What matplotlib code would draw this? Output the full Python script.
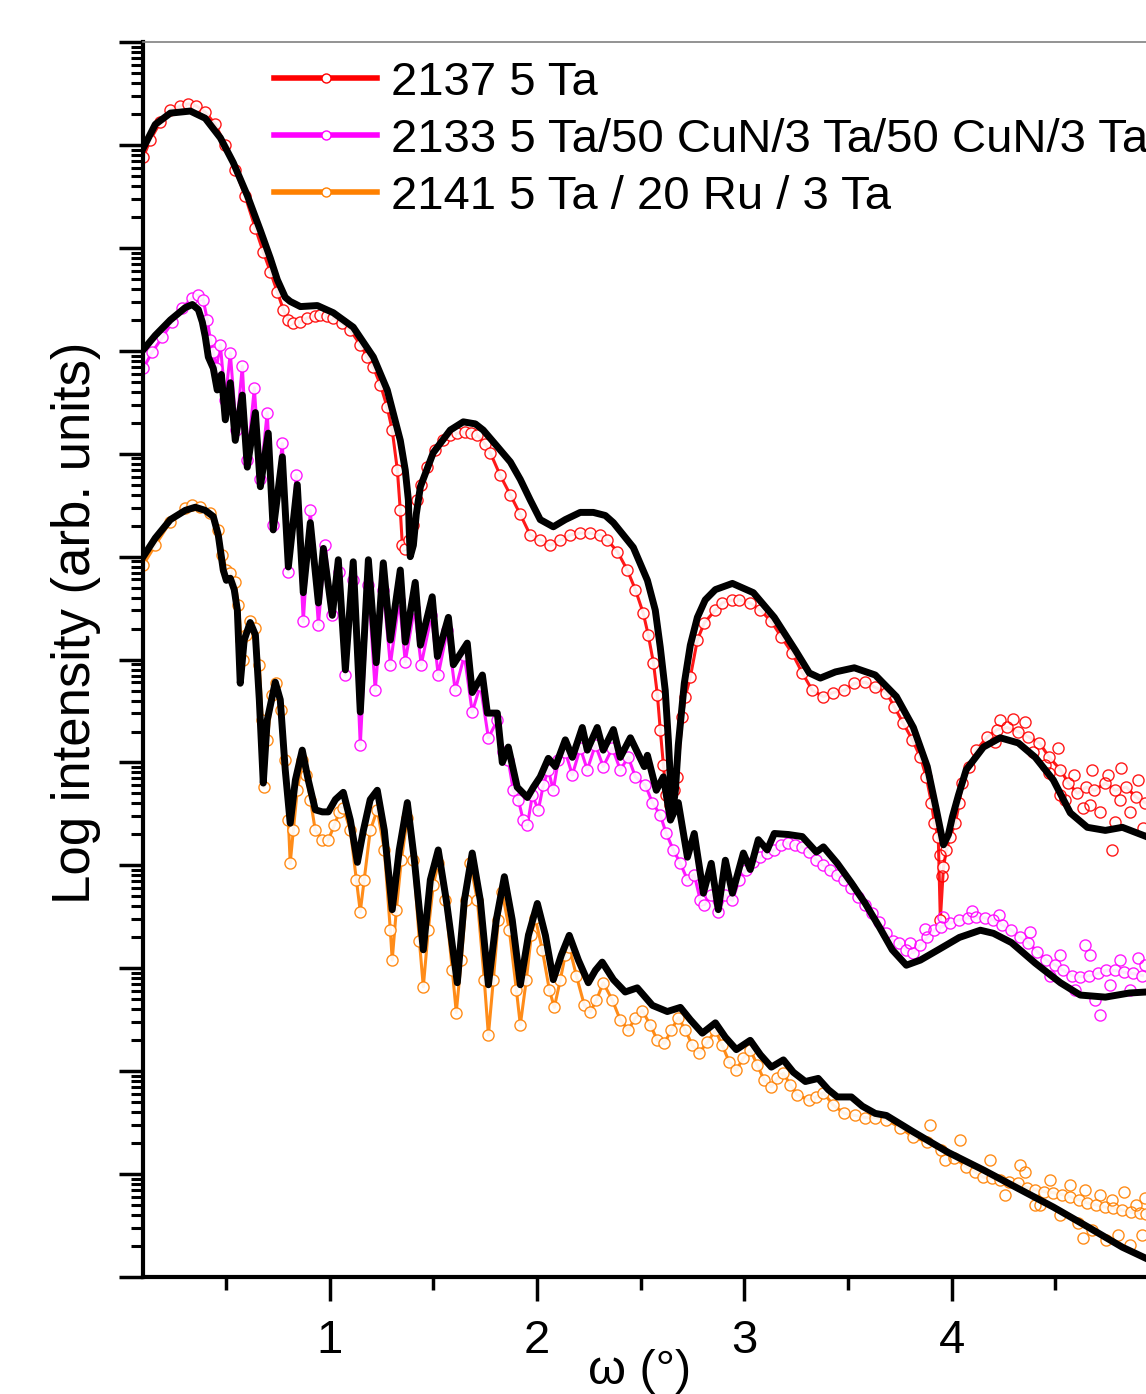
import matplotlib
matplotlib.use('Agg')
import matplotlib.pyplot as plt
import numpy as np
from matplotlib.lines import Line2D
from matplotlib.ticker import LogLocator, NullFormatter, FixedLocator, MultipleLocator

plt.rcParams['font.family'] = ['Liberation Sans', 'DejaVu Sans']

# omega (deg) and log10 intensity (arb. units)
# ---- 2137 5 Ta ----
red_x = [0.101, 0.135, 0.183, 0.232, 0.280, 0.318, 0.357, 0.400, 0.449, 0.497, 0.545, 0.593, 0.642, 0.680,
         0.714, 0.748, 0.777, 0.801, 0.825, 0.859, 0.892, 0.931, 0.955, 0.989, 1.018, 1.061, 1.100, 1.148,
         1.182, 1.211, 1.245, 1.278, 1.302, 1.327, 1.341, 1.351, 1.365, 1.384, 1.404, 1.423, 1.442, 1.471,
         1.510, 1.549, 1.582, 1.616, 1.655, 1.684, 1.713, 1.751, 1.775, 1.823, 1.872, 1.920, 1.968, 2.016,
         2.065, 2.113, 2.161, 2.209, 2.258, 2.306, 2.340, 2.388, 2.436, 2.475, 2.513, 2.537, 2.562, 2.581,
         2.595, 2.610, 2.624, 2.644, 2.663, 2.677, 2.701, 2.716, 2.740, 2.774, 2.808, 2.861, 2.894, 2.943,
         2.976, 3.029, 3.078, 3.131, 3.179, 3.232, 3.280, 3.329, 3.382, 3.430, 3.483, 3.531, 3.584, 3.632,
         3.686, 3.724, 3.768, 3.811, 3.850, 3.878, 3.903, 3.917, 3.936, 3.946, 3.961, 3.975, 3.994, 4.018,
         4.038, 4.052, 4.086, 4.120, 4.173, 4.221, 4.269, 4.322, 4.371, 4.424, 4.472, 4.525, 4.564, 4.607,
         4.650, 4.689, 4.742, 4.790, 4.843, 4.892, 4.935]
red_y = [10.88, 11.05, 11.22, 11.34, 11.38, 11.40, 11.38, 11.32, 11.20, 11.00, 10.76, 10.50, 10.19, 9.96,
         9.77, 9.57, 9.40, 9.30, 9.27, 9.28, 9.32, 9.34, 9.35, 9.34, 9.32, 9.27, 9.20, 9.06,
         8.94, 8.84, 8.67, 8.45, 8.23, 7.84, 7.45, 7.11, 7.07, 7.16, 7.31, 7.55, 7.70, 7.87,
         8.04, 8.13, 8.18, 8.20, 8.21, 8.20, 8.18, 8.09, 8.01, 7.79, 7.60, 7.41, 7.21, 7.16,
         7.11, 7.16, 7.21, 7.23, 7.23, 7.21, 7.16, 7.05, 6.87, 6.68, 6.45, 6.24, 5.97, 5.66,
         5.32, 4.98, 4.68, 4.59, 4.73, 4.86, 5.44, 5.64, 5.83, 6.19, 6.36, 6.48, 6.55, 6.58,
         6.58, 6.55, 6.48, 6.37, 6.22, 6.06, 5.87, 5.70, 5.64, 5.68, 5.70, 5.77, 5.78, 5.73,
         5.68, 5.54, 5.38, 5.22, 5.05, 4.86, 4.61, 4.41, 4.28, 3.47, 3.98, 4.15, 4.28, 4.41,
         4.61, 4.80, 4.96, 5.12, 5.25, 5.32, 5.34, 5.30, 5.25, 5.19, 5.05, 4.93, 4.80, 4.70,
         4.76, 4.73, 4.80, 4.73, 4.76, 4.66, 4.61]
# scattered points of the noisy tail
red_noise_x = [4.235, 4.356, 4.453, 4.515, 4.549, 4.592, 4.636, 4.679, 4.718, 4.756, 4.790, 4.819, 4.863,
               4.901, 4.925, 4.776, 4.670, 4.525, 4.814, 4.208, 4.298, 4.395, 4.470, 3.944, 3.955]
red_noise_y = [5.41, 5.39, 4.98, 5.14, 4.64, 4.88, 4.56, 4.93, 4.52, 4.88, 4.42, 4.95, 4.52,
               4.83, 4.36, 4.15, 4.59, 4.68, 4.64, 5.20, 5.42, 5.10, 4.90, 4.10, 3.90]
red_fit_x = [0.101, 0.159, 0.232, 0.328, 0.400, 0.473, 0.535, 0.603, 0.666, 0.714, 0.748, 0.786, 0.810,
             0.859, 0.941, 1.018, 1.114, 1.211, 1.278, 1.341, 1.365, 1.380, 1.384, 1.389, 1.404, 1.418,
             1.438, 1.500, 1.582, 1.645, 1.703, 1.741, 1.809, 1.872, 1.920, 1.968, 2.016, 2.079, 2.137,
             2.209, 2.272, 2.330, 2.369, 2.417, 2.465, 2.533, 2.571, 2.595, 2.619, 2.634, 2.644, 2.653,
             2.668, 2.682, 2.711, 2.740, 2.774, 2.812, 2.861, 2.943, 3.044, 3.145, 3.247, 3.314, 3.367,
             3.440, 3.531, 3.632, 3.734, 3.816, 3.883, 3.927, 3.961, 3.985, 4.004, 4.033, 4.071, 4.154,
             4.235, 4.322, 4.404, 4.491, 4.573, 4.655, 4.742, 4.824, 4.940]
red_fit_y = [10.97, 11.20, 11.31, 11.33, 11.26, 11.07, 10.83, 10.51, 10.17, 9.90, 9.69, 9.52, 9.48,
             9.43, 9.44, 9.37, 9.23, 8.94, 8.62, 8.13, 7.84, 7.55, 7.26, 7.00, 7.11, 7.41,
             7.68, 8.01, 8.23, 8.31, 8.29, 8.23, 8.07, 7.92, 7.75, 7.55, 7.36, 7.29, 7.36,
             7.43, 7.43, 7.40, 7.33, 7.21, 7.09, 6.77, 6.48, 6.12, 5.70, 5.22, 4.83, 4.49,
             4.73, 5.17, 5.77, 6.14, 6.41, 6.58, 6.68, 6.74, 6.65, 6.41, 6.09, 5.87, 5.82,
             5.88, 5.92, 5.85, 5.64, 5.34, 4.96, 4.54, 4.20, 4.30, 4.47, 4.68, 4.93, 5.15,
             5.24, 5.19, 5.05, 4.83, 4.51, 4.37, 4.34, 4.37, 4.28]

# ---- 2133 5 Ta/50 CuN/3 Ta/50 CuN/3 Ta ----
pink_x = [0.101, 0.145, 0.193, 0.241, 0.289, 0.338, 0.367, 0.391, 0.410, 0.425, 0.439, 0.453, 0.473, 0.497,
          0.521, 0.550, 0.579, 0.603, 0.637, 0.666, 0.699, 0.728, 0.772, 0.801, 0.839, 0.873, 0.907, 0.946,
          0.979, 1.013, 1.047, 1.076, 1.114, 1.148, 1.187, 1.220, 1.259, 1.293, 1.336, 1.365, 1.409, 1.442,
          1.491, 1.524, 1.568, 1.606, 1.650, 1.688, 1.727, 1.766, 1.809, 1.838, 1.862, 1.886, 1.910, 1.934,
          1.954, 1.978, 2.007, 2.031, 2.055, 2.079, 2.103, 2.137, 2.171, 2.209, 2.243, 2.282, 2.320, 2.364,
          2.402, 2.441, 2.475, 2.523, 2.557, 2.595, 2.624, 2.658, 2.692, 2.726, 2.759, 2.788, 2.808, 2.841,
          2.875, 2.909, 2.943, 2.976, 3.010, 3.044, 3.078, 3.111, 3.145, 3.179, 3.213, 3.247, 3.280, 3.314,
          3.348, 3.382, 3.415, 3.449, 3.483, 3.517, 3.550, 3.584, 3.618, 3.652, 3.686, 3.719, 3.748, 3.782,
          3.816, 3.850, 3.883, 3.917, 3.951, 3.994, 4.038, 4.081, 4.120, 4.163, 4.202, 4.245, 4.289, 4.332,
          4.371, 4.414, 4.457, 4.501, 4.539, 4.583, 4.621, 4.665, 4.708, 4.747, 4.790, 4.834, 4.877, 4.921]
pink_y = [8.83, 8.99, 9.13, 9.28, 9.42, 9.51, 9.54, 9.49, 9.30, 9.11, 8.99, 8.83, 9.06, 8.52,
          8.98, 8.23, 8.85, 7.94, 8.64, 7.75, 8.40, 7.31, 8.10, 6.85, 7.79, 6.37, 7.45, 6.34,
          7.11, 6.43, 6.85, 5.85, 6.77, 5.17, 6.72, 5.70, 6.68, 5.95, 6.58, 5.98, 6.50, 5.95,
          6.43, 5.85, 6.29, 5.70, 6.04, 5.49, 5.75, 5.24, 5.41, 5.10, 5.02, 4.73, 4.64, 4.44,
          4.39, 4.68, 4.54, 4.78, 4.93, 4.73, 5.02, 5.10, 4.88, 5.14, 4.93, 5.17, 4.96, 5.14,
          4.93, 5.05, 4.86, 4.78, 4.61, 4.49, 4.31, 4.15, 4.02, 3.86, 3.91, 3.66, 3.62, 3.71,
          3.55, 3.71, 3.66, 3.86, 3.96, 4.03, 4.08, 4.12, 4.15, 4.20, 4.22, 4.20, 4.18, 4.13,
          4.05, 4.00, 3.96, 3.91, 3.86, 3.78, 3.69, 3.62, 3.54, 3.45, 3.34, 3.27, 3.25, 3.18,
          3.15, 3.23, 3.30, 3.37, 3.40, 3.44, 3.47, 3.49, 3.50, 3.49, 3.47, 3.42, 3.37, 3.30,
          3.25, 3.16, 3.08, 3.03, 2.98, 2.93, 2.92, 2.93, 2.95, 2.98, 2.98, 2.96, 2.95, 2.93]
pink_noise_x = [4.525, 4.597, 4.670, 4.694, 4.718, 4.766, 4.814, 4.863, 4.901, 4.935, 4.477, 4.645,
                3.802, 3.870, 3.960, 4.100, 4.230, 4.380]
pink_noise_y = [3.13, 2.79, 3.13, 2.69, 2.55, 2.84, 3.08, 2.79, 3.10, 3.03, 2.93, 3.23,
                3.25, 3.38, 3.50, 3.56, 3.52, 3.35]
pink_fit_x = [0.101, 0.159, 0.232, 0.304, 0.338, 0.367, 0.386, 0.400, 0.415, 0.439, 0.458, 0.478, 0.497,
              0.521, 0.545, 0.579, 0.603, 0.642, 0.666, 0.704, 0.728, 0.772, 0.801, 0.844, 0.873, 0.907,
              0.946, 0.970, 1.013, 1.042, 1.076, 1.114, 1.148, 1.187, 1.225, 1.259, 1.293, 1.341, 1.365,
              1.413, 1.438, 1.495, 1.520, 1.573, 1.597, 1.664, 1.688, 1.737, 1.761, 1.809, 1.833, 1.862,
              1.905, 1.954, 1.983, 2.016, 2.055, 2.089, 2.137, 2.171, 2.219, 2.243, 2.291, 2.320, 2.369,
              2.402, 2.451, 2.518, 2.533, 2.576, 2.610, 2.644, 2.682, 2.726, 2.759, 2.803, 2.841, 2.875,
              2.909, 2.943, 2.996, 3.029, 3.068, 3.111, 3.145, 3.213, 3.280, 3.348, 3.382, 3.449, 3.517,
              3.584, 3.652, 3.714, 3.782, 3.850, 3.936, 4.038, 4.139, 4.202, 4.289, 4.404, 4.525, 4.621,
              4.742, 4.858, 4.940]
pink_fit_y = [9.01, 9.15, 9.30, 9.42, 9.45, 9.40, 9.28, 9.14, 8.94, 8.83, 8.62, 8.77, 8.33,
              8.69, 8.13, 8.57, 7.87, 8.40, 7.68, 8.20, 7.26, 7.97, 6.90, 7.70, 6.65, 7.33,
              6.55, 7.08, 6.43, 6.97, 5.90, 6.95, 5.49, 6.97, 5.97, 6.94, 6.19, 6.87, 6.17,
              6.75, 6.14, 6.61, 6.03, 6.41, 5.95, 6.16, 5.68, 5.85, 5.48, 5.48, 5.00, 5.15,
              4.76, 4.66, 4.76, 4.86, 5.04, 4.96, 5.22, 5.05, 5.34, 5.12, 5.34, 5.12, 5.32,
              5.05, 5.24, 4.96, 5.07, 4.73, 4.86, 4.44, 4.61, 4.08, 4.31, 3.73, 4.02, 3.57,
              4.05, 3.73, 4.12, 3.96, 4.25, 4.15, 4.31, 4.30, 4.28, 4.13, 4.18, 4.02, 3.83,
              3.63, 3.40, 3.18, 3.03, 3.08, 3.18, 3.30, 3.37, 3.34, 3.25, 3.05, 2.86, 2.74,
              2.72, 2.76, 2.77]

# ---- 2141 5 Ta / 20 Ru / 3 Ta ----
orange_x = [0.101, 0.159, 0.232, 0.304, 0.338, 0.376, 0.425, 0.463, 0.482, 0.502, 0.521, 0.545, 0.560, 0.574,
            0.584, 0.598, 0.617, 0.642, 0.661, 0.675, 0.685, 0.699, 0.724, 0.743, 0.767, 0.786, 0.801, 0.810,
            0.825, 0.844, 0.868, 0.888, 0.907, 0.931, 0.965, 0.994, 1.023, 1.047, 1.066, 1.100, 1.129, 1.148,
            1.167, 1.196, 1.230, 1.264, 1.293, 1.302, 1.322, 1.346, 1.375, 1.404, 1.433, 1.452, 1.476, 1.500,
            1.524, 1.558, 1.592, 1.611, 1.635, 1.659, 1.679, 1.713, 1.746, 1.766, 1.790, 1.814, 1.833, 1.867,
            1.901, 1.920, 1.949, 1.973, 1.992, 2.026, 2.060, 2.084, 2.113, 2.137, 2.156, 2.190, 2.229, 2.258,
            2.287, 2.320, 2.364, 2.402, 2.441, 2.475, 2.508, 2.547, 2.581, 2.615, 2.648, 2.682, 2.716, 2.750,
            2.783, 2.822, 2.861, 2.894, 2.928, 2.962, 2.996, 3.029, 3.063, 3.097, 3.131, 3.160, 3.189, 3.222,
            3.256, 3.314, 3.348, 3.382, 3.430, 3.483, 3.536, 3.584, 3.632, 3.686, 3.753, 3.816, 3.883, 3.951,
            4.014, 4.071, 4.115, 4.154, 4.197, 4.235, 4.279, 4.322, 4.366, 4.404, 4.448, 4.491, 4.535, 4.573,
            4.617, 4.655, 4.699, 4.742, 4.781, 4.824, 4.867, 4.911, 4.940]
orange_y = [6.92, 7.11, 7.34, 7.47, 7.50, 7.48, 7.42, 7.26, 7.02, 6.87, 6.84, 6.75, 6.53, 6.19,
            6.00, 6.24, 6.37, 6.31, 5.95, 5.41, 4.76, 5.22, 5.66, 5.77, 5.51, 5.02, 4.44, 4.02,
            4.34, 4.73, 5.02, 4.88, 4.64, 4.34, 4.25, 4.25, 4.39, 4.52, 4.56, 4.34, 3.86, 3.55,
            3.86, 4.34, 4.54, 4.15, 3.37, 3.08, 3.57, 4.05, 4.46, 4.05, 3.27, 2.82, 3.37, 3.81,
            4.02, 3.66, 2.98, 2.57, 3.08, 3.66, 4.02, 3.66, 2.89, 2.35, 2.89, 3.47, 3.74, 3.37,
            2.79, 2.45, 2.89, 3.32, 3.49, 3.18, 2.79, 2.62, 2.89, 3.13, 3.21, 2.93, 2.64, 2.58,
            2.69, 2.86, 2.69, 2.50, 2.40, 2.52, 2.59, 2.45, 2.30, 2.27, 2.40, 2.52, 2.40, 2.25,
            2.18, 2.28, 2.40, 2.25, 2.09, 2.01, 2.13, 2.21, 2.06, 1.91, 1.85, 1.93, 1.98, 1.87,
            1.77, 1.72, 1.75, 1.79, 1.67, 1.59, 1.57, 1.55, 1.55, 1.53, 1.45, 1.36, 1.31, 1.23,
            1.16, 1.07, 1.02, 0.97, 0.96, 0.94, 0.92, 0.91, 0.87, 0.85, 0.83, 0.82, 0.80, 0.78,
            0.75, 0.72, 0.70, 0.68, 0.67, 0.65, 0.63, 0.62, 0.61]
orange_noise_x = [4.042, 4.187, 4.260, 4.356, 4.428, 4.477, 4.525, 4.573, 4.612, 4.645, 4.679, 4.718,
                  4.747, 4.776, 4.805, 4.834, 4.863, 4.892, 4.921, 4.935, 4.636, 3.898, 3.970, 4.332, 4.404]
orange_noise_y = [1.33, 1.14, 0.80, 1.02, 0.70, 0.94, 0.60, 0.89, 0.53, 0.85, 0.46, 0.80,
                  0.36, 0.75, 0.41, 0.83, 0.31, 0.70, 0.41, 0.77, 0.38, 1.48, 1.14, 1.09, 0.70]
orange_fit_x = [0.101, 0.159, 0.232, 0.304, 0.352, 0.400, 0.439, 0.463, 0.487, 0.502, 0.521, 0.540, 0.555,
                0.569, 0.588, 0.617, 0.642, 0.661, 0.680, 0.699, 0.738, 0.762, 0.786, 0.810, 0.835, 0.868,
                0.897, 0.931, 0.965, 0.994, 1.028, 1.066, 1.100, 1.134, 1.163, 1.196, 1.230, 1.264, 1.302,
                1.336, 1.375, 1.409, 1.452, 1.486, 1.524, 1.563, 1.616, 1.650, 1.688, 1.727, 1.766, 1.804,
                1.843, 1.881, 1.920, 1.959, 2.002, 2.041, 2.079, 2.118, 2.156, 2.200, 2.248, 2.282, 2.315,
                2.369, 2.426, 2.484, 2.557, 2.629, 2.692, 2.740, 2.798, 2.861, 2.909, 2.962, 3.029, 3.078,
                3.131, 3.189, 3.237, 3.295, 3.357, 3.406, 3.449, 3.517, 3.570, 3.632, 3.686, 3.816, 3.985,
                4.154, 4.322, 4.491, 4.655, 4.824, 4.940]
orange_fit_y = [7.00, 7.18, 7.36, 7.45, 7.48, 7.45, 7.39, 7.21, 6.87, 6.77, 6.79, 6.68, 6.48,
                5.77, 6.19, 6.36, 6.24, 5.61, 4.80, 5.41, 5.78, 5.61, 4.93, 4.41, 4.83, 5.12,
                4.83, 4.54, 4.52, 4.52, 4.64, 4.71, 4.44, 4.03, 4.34, 4.64, 4.73, 4.34, 3.57,
                4.15, 4.61, 4.05, 3.18, 3.86, 4.15, 3.66, 2.86, 3.66, 4.12, 3.66, 2.84, 3.47,
                3.89, 3.47, 2.84, 3.32, 3.63, 3.32, 2.89, 3.13, 3.32, 3.08, 2.86, 2.98, 3.06,
                2.89, 2.77, 2.81, 2.64, 2.58, 2.62, 2.50, 2.37, 2.47, 2.33, 2.21, 2.30, 2.16,
                2.04, 2.11, 1.99, 1.90, 1.93, 1.82, 1.75, 1.75, 1.66, 1.59, 1.57, 1.41, 1.21,
                1.04, 0.86, 0.68, 0.49, 0.29, 0.18]

series = [
    ('2137 5 Ta', '#ff0000', red_x, red_y, red_noise_x, red_noise_y, red_fit_x, red_fit_y),
    ('2133 5 Ta/50 CuN/3 Ta/50 CuN/3 Ta', '#ff00ff', pink_x, pink_y, pink_noise_x, pink_noise_y,
     pink_fit_x, pink_fit_y),
    ('2141 5 Ta / 20 Ru / 3 Ta', '#ff8000', orange_x, orange_y, orange_noise_x, orange_noise_y,
     orange_fit_x, orange_fit_y),
]

fig = plt.figure(figsize=(11.46, 13.94), dpi=100)
ax = fig.add_axes([0.1248, 0.0839, 0.8864, 0.8859])

handles = []
for label, color, dx, dy, nx, ny, fx, fy in series:
    # line + symbol, as in the original plot
    ax.plot(dx, 10 ** np.array(dy), color=color, lw=2.2, marker='o', markersize=8,
            markerfacecolor='white', markeredgecolor=color, markeredgewidth=1.0, alpha=0.9)
    ax.plot(nx, 10 ** np.array(ny), linestyle='none', marker='o', markersize=8,
            markerfacecolor='none', markeredgecolor=color, markeredgewidth=1.0, alpha=0.9)
    handles.append(Line2D([], [], color=color, lw=4, marker='o', markersize=6.5,
                          markerfacecolor='white', markeredgecolor=color, markeredgewidth=1))

for label, color, dx, dy, nx, ny, fx, fy in series:
    ax.plot(fx, 10 ** np.array(fy), color='black', lw=5, solid_joinstyle='round', zorder=5)

ax.set_yscale('log')
ax.set_xlim(0.1, 5.0)
ax.set_ylim(1, 1e12)

ax.xaxis.set_major_locator(FixedLocator([1, 2, 3, 4]))
ax.xaxis.set_minor_locator(FixedLocator([0.5, 1.5, 2.5, 3.5, 4.5]))
ax.yaxis.set_major_locator(LogLocator(base=10, numticks=20))
ax.yaxis.set_minor_locator(LogLocator(base=10, subs=np.arange(2, 10), numticks=20))
ax.yaxis.set_major_formatter(NullFormatter())
ax.yaxis.set_minor_formatter(NullFormatter())

ax.tick_params(axis='x', which='major', direction='out', length=17, width=2.5, labelsize=34, pad=13)
ax.tick_params(axis='x', which='minor', direction='out', length=9, width=2.5)
ax.tick_params(axis='y', which='major', direction='out', length=17, width=2.5)
ax.tick_params(axis='y', which='minor', direction='out', length=8.5, width=2.2)

for side in ['left', 'bottom']:
    ax.spines[side].set_linewidth(3)
ax.spines['top'].set_linewidth(1.2)
ax.spines['top'].set_color('#808080')
ax.spines['right'].set_visible(False)

ax.set_ylabel('Log intensity (arb. units)', fontsize=38)
ax.yaxis.set_label_coords(-0.041, 0.53)
ax.set_xlabel('ω (°)', fontsize=35)
ax.xaxis.set_label_coords(0.489, -0.058)

ax.legend(handles, [s[0] for s in series], loc='upper left', bbox_to_anchor=(0.129, 0.985),
          frameon=False, fontsize=34, handlelength=2.18, handletextpad=0.3, labelspacing=0.275,
          borderpad=0, borderaxespad=0)

fig.savefig('out.png', dpi=100)
